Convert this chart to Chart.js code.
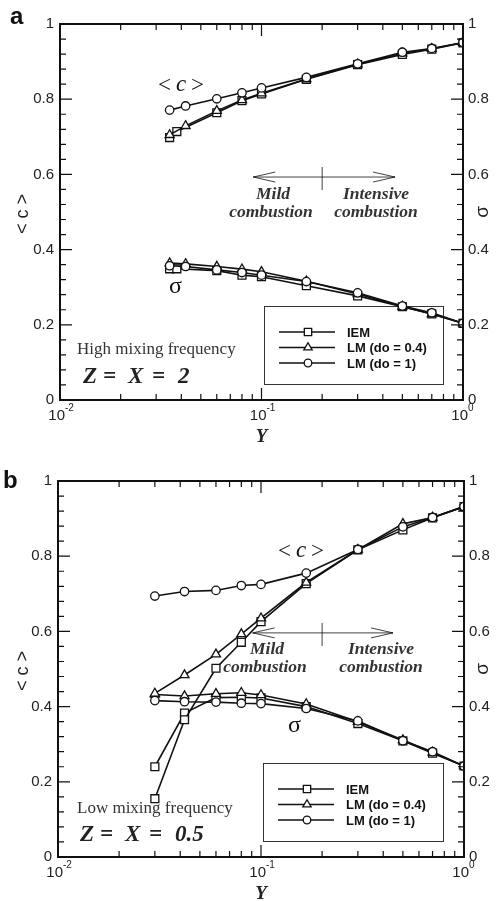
<!DOCTYPE html>
<html>
<head>
<meta charset="utf-8">
<script src="https://cdn.jsdelivr.net/npm/chart.js@4.4.1/dist/chart.umd.min.js"></script>
<style>
body { margin: 0; background: #fff; }
#wrap { position: relative; width: 496px; height: 901px; }
canvas { position: absolute; left: 0; }
</style>
</head>
<body>
<div id="wrap">
  <canvas id="chartA" width="496" height="450" style="top:0"></canvas>
  <canvas id="chartB" width="496" height="451" style="top:450px"></canvas>
</div>
<script>
// ---- data ----
var yTicks = [0, 0.2, 0.4, 0.6, 0.8, 1];
var xDecades = [0.01, 0.1, 1];
var xDecadeExp = ['-2', '-1', '0'];
var seriesNames = ['IEM', 'LM (do = 0.4)', 'LM (do = 1)'];

// panel a : high mixing frequency
var xA_IEM = [0.035, 0.038, 0.06, 0.08, 0.1, 0.167, 0.3, 0.5, 0.7, 1.0];
var xA_LM = [0.035, 0.042, 0.06, 0.08, 0.1, 0.167, 0.3, 0.5, 0.7, 1.0];
var cA_IEM = [0.698, 0.714, 0.764, 0.796, 0.814, 0.853, 0.892, 0.919, 0.933, 0.950];
var cA_LM04 = [0.705, 0.729, 0.769, 0.798, 0.816, 0.854, 0.893, 0.922, 0.934, 0.950];
var cA_LM1 = [0.771, 0.782, 0.801, 0.817, 0.830, 0.858, 0.894, 0.925, 0.935, 0.951];
var sA_IEM = [0.349, 0.349, 0.344, 0.332, 0.328, 0.304, 0.277, 0.248, 0.229, 0.204];
var sA_LM04 = [0.364, 0.362, 0.355, 0.348, 0.341, 0.316, 0.282, 0.249, 0.229, 0.204];
var sA_LM1 = [0.357, 0.355, 0.346, 0.339, 0.332, 0.315, 0.285, 0.250, 0.232, 0.204];

// panel b : low mixing frequency
var xB = [0.03, 0.042, 0.06, 0.08, 0.1, 0.167, 0.3, 0.5, 0.7, 1.0];
var cB_IEM = [0.155, 0.365, 0.502, 0.571, 0.626, 0.727, 0.817, 0.870, 0.902, 0.932];
var cB_LM04 = [0.435, 0.484, 0.539, 0.593, 0.635, 0.730, 0.817, 0.886, 0.903, 0.932];
var cB_LM1 = [0.694, 0.706, 0.709, 0.722, 0.725, 0.755, 0.818, 0.878, 0.903, 0.932];
var sB_IEM = [0.240, 0.383, 0.424, 0.425, 0.423, 0.400, 0.355, 0.309, 0.276, 0.242];
var sB_LM04 = [0.432, 0.428, 0.434, 0.437, 0.431, 0.407, 0.360, 0.311, 0.278, 0.242];
var sB_LM1 = [0.416, 0.413, 0.412, 0.409, 0.408, 0.395, 0.362, 0.309, 0.280, 0.242];

var styles = ['rect', 'triangle', 'circle'];
var radii = [5.6, 5.2, 4.2];

function pts(xs, ys) {
    var out = [];
    for (var i = 0; i < xs.length; i++) out.push({x: xs[i], y: ys[i]});
    return out;
}

function ds(label, data, k, axis) {
    return {
        label: label,
        data: data,
        yAxisID: axis,
        borderColor: '#111',
        borderWidth: 1.6,
        pointStyle: styles[k],
        pointRadius: radii[k],
        pointHoverRadius: radii[k],
        pointBackgroundColor: '#fff',
        pointBorderColor: '#111',
        pointBorderWidth: 1.3,
        tension: 0,
        fill: false
    };
}

function supLabel(ctx, x, y, exp) {
    ctx.font = '15px "Liberation Sans", Arial, sans-serif';
    ctx.textAlign = 'right';
    ctx.textBaseline = 'middle';
    ctx.fillText('10', x + 5, y);
    ctx.font = '10px "Liberation Sans", Arial, sans-serif';
    ctx.textAlign = 'left';
    ctx.fillText(exp, x + 5, y - 8);
}

function decor(cfg) {
    return {
        id: 'decor' + cfg.letter,
        beforeDatasetsDraw: function(chart) {
            var ctx = chart.ctx, sx = chart.scales.x, sy = chart.scales.y;
            ctx.save();
            ctx.fillStyle = '#111';
            ctx.strokeStyle = '#111';

            // regime arrow
            var ay = sy.getPixelForValue(cfg.arrowY);
            var x1 = sx.getPixelForValue(cfg.arrowFrom), x2 = sx.getPixelForValue(cfg.arrowTo);
            var xm = sx.getPixelForValue(0.2);
            ctx.lineWidth = 0.8;
            ctx.beginPath();
            ctx.moveTo(x1, ay); ctx.lineTo(x2, ay);
            ctx.moveTo(x1 + 22, ay - 5); ctx.lineTo(x1, ay); ctx.lineTo(x1 + 22, ay + 5);
            ctx.moveTo(x2 - 22, ay - 5); ctx.lineTo(x2, ay); ctx.lineTo(x2 - 22, ay + 5);
            ctx.moveTo(xm, ay - 10); ctx.lineTo(xm, ay + 13);
            ctx.stroke();

            ctx.font = 'italic bold 17.5px "Liberation Serif", "Times New Roman", serif';
            ctx.textAlign = 'center';
            ctx.textBaseline = 'middle';
            ctx.fillStyle = '#333';
            ctx.fillText('Mild', cfg.mild[0], cfg.mild[1]);
            ctx.fillText('combustion', cfg.mild[2], cfg.mild[1] + 18);
            ctx.fillText('Intensive', cfg.intense[0], cfg.intense[1]);
            ctx.fillText('combustion', cfg.intense[0], cfg.intense[1] + 18);
            ctx.fillStyle = '#111';

            // curve labels
            ctx.font = '23px "Liberation Serif", "Times New Roman", serif';
            ctx.textAlign = 'left';
            ctx.fillText('<', cfg.cLab[0], cfg.cLab[1]);
            ctx.fillText('>', cfg.cLab[0] + 33, cfg.cLab[1]);
            ctx.font = 'italic 23px "Liberation Serif", "Times New Roman", serif';
            ctx.fillText('c', cfg.cLab[0] + 18, cfg.cLab[1] - 1);
            ctx.font = '24px "Liberation Serif", "Times New Roman", serif';
            ctx.fillText('σ', cfg.sLab[0], cfg.sLab[1]);

            // condition text
            ctx.font = '17px "Liberation Serif", "Times New Roman", serif';
            ctx.fillStyle = '#333';
            ctx.fillText(cfg.freq, cfg.freqPos[0], cfg.freqPos[1]);
            ctx.fillStyle = '#222';
            ctx.font = 'italic bold 23px "Liberation Serif", "Times New Roman", serif';
            var zx = cfg.zPos[0], zy = cfg.zPos[1];
            ctx.fillText('Z', zx, zy);
            ctx.fillText('=', zx + 20, zy);
            ctx.fillText('X', zx + 45, zy);
            ctx.fillText('=', zx + 69, zy);
            ctx.fillText(cfg.zVal, zx + 95, zy);

            // legend box
            var L = cfg.legend;
            ctx.lineWidth = 1;
            ctx.strokeStyle = '#333';
            ctx.strokeRect(L[0] + 0.5, L[1] + 0.5, L[2], L[3]);
            ctx.strokeStyle = '#111';
            ctx.font = 'bold 13px "Liberation Sans", Arial, sans-serif';
            for (var k = 0; k < 3; k++) {
                var ly = L[1] + 26 + k * 15.5;
                ctx.lineWidth = 1.6;
                ctx.beginPath();
                ctx.moveTo(L[0] + 15, ly); ctx.lineTo(L[0] + 71, ly);
                ctx.stroke();
                ctx.fillStyle = '#fff';
                ctx.lineWidth = 1.3;
                Chart.helpers.drawPoint(ctx, {pointStyle: styles[k], radius: radii[k] - 0.4, borderWidth: 1.3}, L[0] + 44, ly);
                ctx.fillStyle = '#111';
                ctx.fillText(seriesNames[k], L[0] + 83, ly + 1);
            }
            ctx.restore();
        },
        afterDraw: function(chart) {
            var ctx = chart.ctx, a = chart.chartArea, sx = chart.scales.x, sy = chart.scales.y;
            ctx.save();
            ctx.strokeStyle = '#111';
            ctx.fillStyle = '#111';
            // frame
            ctx.lineWidth = 2;
            ctx.strokeRect(a.left, a.top, a.right - a.left, a.bottom - a.top);

            // y ticks, both sides, inward
            ctx.lineWidth = 1.2;
            ctx.beginPath();
            for (var v = 0; v <= 25; v++) {
                var py = sy.getPixelForValue(v * 0.04);
                var len = (v % 5 === 0) ? 12 : 6;
                ctx.moveTo(a.left, py); ctx.lineTo(a.left + len, py);
                ctx.moveTo(a.right, py); ctx.lineTo(a.right - len, py);
            }
            // x ticks, top and bottom, inward
            for (var d = 0; d < 2; d++) {
                for (var m = 1; m <= 10; m++) {
                    var px = sx.getPixelForValue(xDecades[d] * m);
                    var l2 = (m === 1 || m === 10) ? 12 : 6;
                    ctx.moveTo(px, a.bottom); ctx.lineTo(px, a.bottom - l2);
                    ctx.moveTo(px, a.top); ctx.lineTo(px, a.top + l2);
                }
            }
            ctx.stroke();

            // x tick labels with superscript exponents
            ctx.fillStyle = '#222';
            for (var i = 0; i < xDecades.length; i++) {
                supLabel(ctx, sx.getPixelForValue(xDecades[i]), a.bottom + 16, xDecadeExp[i]);
            }

            // axis titles
            ctx.font = 'italic bold 19px "Liberation Serif", "Times New Roman", serif';
            ctx.textAlign = 'center';
            ctx.textBaseline = 'middle';
            ctx.fillText('Y', (a.left + a.right) / 2, a.bottom + 37);

            var my = (a.top + a.bottom) / 2;
            ctx.save();
            ctx.translate(23, my + 2);
            ctx.rotate(-Math.PI / 2);
            ctx.font = '18px "Liberation Sans", Arial, sans-serif';
            ctx.fillText('< c >', 0, 0);
            ctx.restore();
            ctx.save();
            ctx.translate(483, my);
            ctx.rotate(-Math.PI / 2);
            ctx.font = '19px "Liberation Sans", Arial, sans-serif';
            ctx.fillText('σ', 0, 0);
            ctx.restore();

            // panel letter
            ctx.font = 'bold 24px "Liberation Sans", Arial, sans-serif';
            ctx.textAlign = 'left';
            ctx.fillStyle = '#111';
            ctx.fillText(cfg.letter, cfg.letterPos[0], cfg.letterPos[1]);
            ctx.restore();
        }
    };
}

function yLabel(v) { return String(v); }

function makePanel(id, box, datasets, cfg) {
    var canvas = document.getElementById(id);
    var H = canvas.height;
    var tickFont = {family: '"Liberation Sans", Arial, sans-serif', size: 15};
    return new Chart(canvas, {
        type: 'line',
        data: {datasets: datasets},
        options: {
            responsive: false,
            animation: false,
            events: [],
            layout: {padding: {top: box.top, left: 0, right: 0, bottom: 0}},
            plugins: {legend: {display: false}, tooltip: {enabled: false}},
            scales: {
                x: {
                    type: 'logarithmic', min: 0.01, max: 1,
                    grid: {display: false, drawTicks: false}, border: {display: false},
                    ticks: {display: false},
                    afterFit: function(s) { s.height = H - box.bottom; }
                },
                y: {
                    type: 'linear', position: 'left', min: 0, max: 1,
                    grid: {display: false, drawTicks: false}, border: {display: false},
                    afterBuildTicks: function(s) { s.ticks = yTicks.map(function(v) { return {value: v}; }); },
                    ticks: {padding: 6, font: tickFont, color: '#222', callback: yLabel},
                    afterFit: function(s) { s.width = box.left; }
                },
                y2: {
                    type: 'linear', position: 'right', min: 0, max: 1,
                    grid: {display: false, drawTicks: false}, border: {display: false},
                    afterBuildTicks: function(s) { s.ticks = yTicks.map(function(v) { return {value: v}; }); },
                    ticks: {padding: 5, font: tickFont, color: '#222', callback: yLabel},
                    afterFit: function(s) { s.width = 496 - box.right; }
                }
            }
        },
        plugins: [decor(cfg)]
    });
}

makePanel('chartA', {left: 60, right: 463, top: 24, bottom: 400}, [
    ds('LM (do = 1) <c>', pts(xA_LM, cA_LM1), 2, 'y'),
    ds('LM (do = 1) sigma', pts(xA_LM, sA_LM1), 2, 'y2'),
    ds('LM (do = 0.4) <c>', pts(xA_LM, cA_LM04), 1, 'y'),
    ds('LM (do = 0.4) sigma', pts(xA_LM, sA_LM04), 1, 'y2'),
    ds('IEM <c>', pts(xA_IEM, cA_IEM), 0, 'y'),
    ds('IEM sigma', pts(xA_IEM, sA_IEM), 0, 'y2')
], {
    letter: 'a', letterPos: [10, 17],
    arrowY: 0.593, arrowFrom: 0.091, arrowTo: 0.46,
    mild: [273, 194, 271], intense: [376, 194],
    cLab: [158, 86], sLab: [169, 287],
    freq: 'High mixing frequency', freqPos: [77, 350],
    zPos: [83, 377], zVal: '2',
    legend: [264, 306, 179, 78]
});

makePanel('chartB', {left: 58, right: 464, top: 31, bottom: 407}, [
    ds('LM (do = 1) <c>', pts(xB, cB_LM1), 2, 'y'),
    ds('LM (do = 1) sigma', pts(xB, sB_LM1), 2, 'y2'),
    ds('LM (do = 0.4) <c>', pts(xB, cB_LM04), 1, 'y'),
    ds('LM (do = 0.4) sigma', pts(xB, sB_LM04), 1, 'y2'),
    ds('IEM <c>', pts(xB, cB_IEM), 0, 'y'),
    ds('IEM sigma', pts(xB, sB_IEM), 0, 'y2')
], {
    letter: 'b', letterPos: [3, 31],
    arrowY: 0.596, arrowFrom: 0.091, arrowTo: 0.447,
    mild: [267, 199, 265], intense: [381, 199],
    cLab: [278, 102], sLab: [288, 276],
    freq: 'Low mixing frequency', freqPos: [77, 359],
    zPos: [80, 385], zVal: '0.5',
    legend: [263, 313, 180, 78]
});
</script>
</body>
</html>
